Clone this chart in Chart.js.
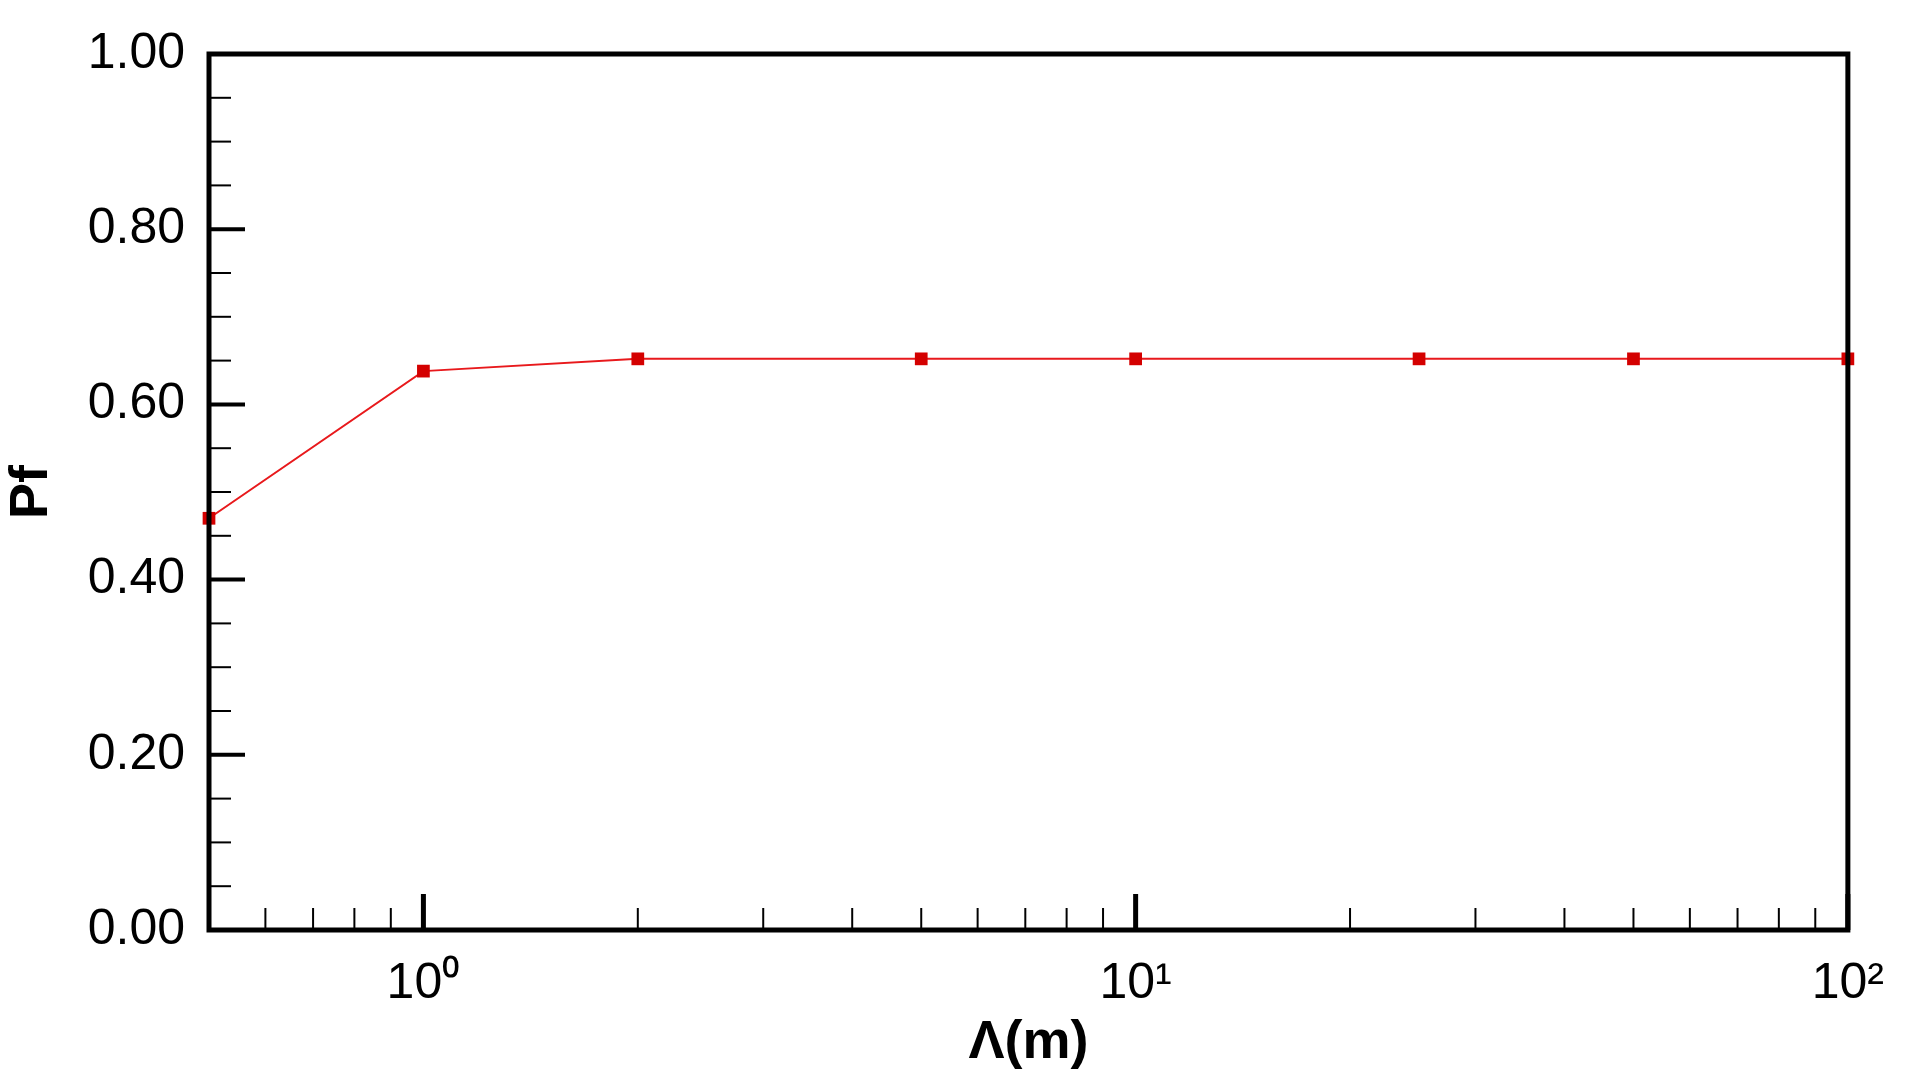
<!DOCTYPE html>
<html><head><meta charset="utf-8">
<script src="https://cdn.jsdelivr.net/npm/chart.js@4"></script>
<style>html,body{margin:0;background:#fff}#wrap{width:1908px;height:1090px}</style>
</head><body><div id="wrap"><canvas id="c"></canvas></div>
<script>
const lambdaM = [0.5, 1, 2, 5, 10, 25, 50, 100];
const pf = [0.47, 0.638, 0.652, 0.652, 0.652, 0.652, 0.652, 0.652];
const yTicks = [0, 0.2, 0.4, 0.6, 0.8, 1.0];
const xTicks = [1, 10, 100];
const sup = { 0: "\u2070", 1: "\u00b9", 2: "\u00b2" };

// frame + inward ticks, Tecplot style
const frame = {
  id: "frame",
  afterDraw(chart) {
    const { ctx, chartArea: a, scales: { x, y } } = chart;
    ctx.save();
    ctx.strokeStyle = "#000";
    ctx.lineWidth = 5;
    ctx.strokeRect(a.left, a.top, a.right - a.left, a.bottom - a.top);
    for (let v = 0; v <= 1.0001; v += 0.05) {
      const p = y.getPixelForValue(v);
      const major = Math.abs(v * 5 - Math.round(v * 5)) < 1e-6;
      ctx.lineWidth = major ? 4 : 2;
      ctx.beginPath(); ctx.moveTo(a.left, p); ctx.lineTo(a.left + (major ? 36 : 22), p); ctx.stroke();
    }
    for (let d = 0.1; d <= 100; d *= 10) {
      for (let m = 1; m <= 9; m++) {
        const v = d * m;
        if (v < 0.5 || v > 100) continue;
        const p = x.getPixelForValue(v);
        const major = m === 1;
        ctx.lineWidth = major ? 5 : 2;
        ctx.beginPath(); ctx.moveTo(p, a.bottom); ctx.lineTo(p, a.bottom - (major ? 36 : 22)); ctx.stroke();
      }
    }
    ctx.restore();
  }
};

new Chart(document.getElementById("c"), {
  type: "line",
  data: {
    datasets: [{
      data: lambdaM.map((v, i) => ({ x: v, y: pf[i] })),
      borderColor: "#e8191c",
      borderWidth: 2,
      backgroundColor: "#d40000",
      pointStyle: "rect",
      pointRadius: 9,
      pointBorderWidth: 0,
      tension: 0,
      clip: false
    }]
  },
  options: {
    responsive: true,
    maintainAspectRatio: false,
    animation: false,
    layout: { padding: { top: 41, right: 52, left: 0, bottom: 0 } },
    plugins: { legend: { display: false }, tooltip: { enabled: false } },
    scales: {
      x: {
        type: "logarithmic",
        min: 0.5, max: 100,
        grid: { display: false, drawTicks: false },
        border: { display: false },
        afterBuildTicks: s => { s.ticks = xTicks.map(v => ({ value: v })); },
        ticks: {
          autoSkip: false, maxRotation: 0, padding: 24,
          color: "#000",
          font: { family: "Liberation Sans", size: 50 },
          callback: v => "10" + sup[Math.round(Math.log10(v))]
        },
        title: {
          display: true, text: "\u039b(m)", color: "#000", padding: { top: 0, bottom: 14 },
          font: { family: "Liberation Sans", size: 54, weight: "bold" }
        },
        afterFit: s => { s.height = 160; }
      },
      y: {
        min: 0, max: 1,
        grid: { display: false, drawTicks: false },
        border: { display: false },
        afterBuildTicks: s => { s.ticks = yTicks.map(v => ({ value: v })); },
        ticks: {
          padding: 24, color: "#000",
          font: { family: "Liberation Sans", size: 50 },
          callback: v => v.toFixed(2)
        },
        title: {
          display: true, text: "Pf", color: "#000", padding: { top: 0, bottom: 0 },
          font: { family: "Liberation Sans", size: 54, weight: "bold" }
        },
        afterFit: s => { s.width = 209; }
      }
    }
  },
  plugins: [frame]
});
</script></body></html>
